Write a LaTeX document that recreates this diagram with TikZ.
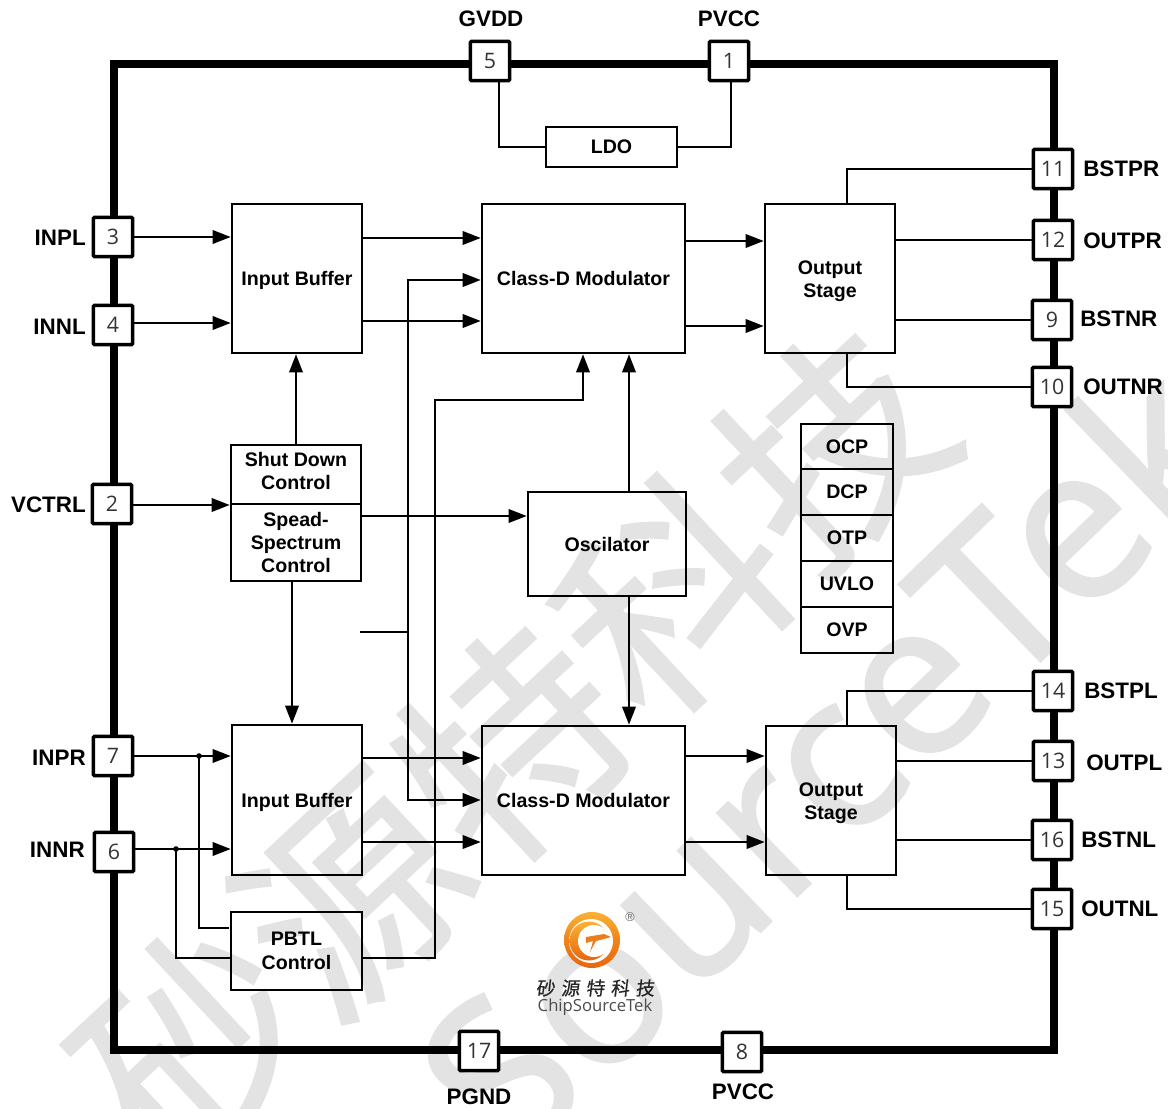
\documentclass[tikz,border=0pt]{standalone}
\usepackage{fontspec}
\setmainfont{Liberation Sans}
\newfontfamily\cjkfont{Noto Sans CJK SC}
\newfontfamily\cjklogo[FakeBold=0.6]{Noto Sans CJK SC}
\newfontfamily\cjkwm[FakeBold=0.9]{Noto Sans CJK SC}
\newfontfamily\numfont{Open Sans}
\newfontfamily\logofont{Open Sans}
\newfontfamily\wmfont[FakeBold=1.4]{Open Sans}
\usetikzlibrary{arrows.meta,calc}
\definecolor{wm}{HTML}{E3E3E3}
\definecolor{logoA}{HTML}{F9B233}
\definecolor{logoB}{HTML}{E8650F}
\tikzset{
  boxst/.style={draw=black,line width=1.9pt,fill=none,inner sep=0pt,align=center,font=\fontsize{14.7}{17.6}\selectfont\bfseries},
  pinst/.style={draw=black,line width=2.6pt,fill=white,rounded corners=0.8pt,minimum size=29.5pt,inner sep=0pt,font=\numfont\fontsize{16}{16}\selectfont,text=black!80},
  lblst/.style={inner sep=0pt,font=\fontsize{16.8}{19}\selectfont\bfseries},
  wire/.style={draw=black,line width=1.8pt},
  arr/.style={wire,-{Triangle[length=13.5pt,width=10pt]}},
  dotst/.style={circle,fill=black,inner sep=0pt,minimum size=4.2pt},
}
\newcommand{\bx}[6]{\node[boxst,minimum width=#4*0.75pt-#2*0.75pt,minimum height=#5*0.75pt-#3*0.75pt] (#1) at ({(#2+#4)/2},{(#3+#5)/2}) {#6};}
\newcommand{\dn}{\rule{0pt}{14pt}}
\newcommand{\up}{\rule[-5.5pt]{0pt}{5.5pt}}
\begin{document}
\begin{tikzpicture}[x=0.75pt,y=-0.75pt]
\useasboundingbox (0,0) rectangle (1168,1109);
\clip (0,0) rectangle (1168,1109);
\fill[white] (0,0) rectangle (1168,1109);
% watermark
\node[rotate=43,text=wm,inner sep=0pt,font=\cjkwm\fontsize{164}{166}\selectfont] (wm1) at (512,745) {砂源特科技};
\node[rotate=44,text=wm,inner sep=0pt,font=\wmfont\fontsize{161}{163}\selectfont] (wm2) at (823,759) {SourceTek};
% frame
\draw[line width=5.4pt,line join=miter] (114,64) rectangle (1054,1050);
% boxes
\bx{ldo}{546}{127}{677}{167}{LDO}
\bx{ib1}{232}{204}{362}{353}{\dn Input Buffer}
\bx{cd1}{482}{204}{685}{353}{Class-D Modulator}
\bx{os1}{765}{204}{895}{353}{\dn Output\\Stage}
\bx{sd}{231}{445}{361}{504}{Shut Down\\Control\up}
\bx{ss}{231}{504}{361}{581}{Spead-\\Spectrum\\Control}
\bx{osc}{528}{492}{686}{596}{Oscilator}
\bx{ocp}{801}{424}{893}{469}{OCP}
\bx{dcp}{801}{469}{893}{515}{DCP}
\bx{otp}{801}{515}{893}{561}{OTP}
\bx{uvlo}{801}{561}{893}{607}{UVLO}
\bx{ovp}{801}{607}{893}{653}{OVP}
\bx{ib2}{232}{725}{362}{875}{\dn Input Buffer}
\bx{cd2}{482}{726}{685}{875}{Class-D Modulator}
\bx{os2}{766}{726}{896}{875}{\dn Output\\Stage}
\bx{pbtl}{231}{912}{362}{990}{PBTL\\Control}
% pins
\node[pinst] (p5) at (490,61) {5};
\node[pinst] (p1) at (729,61) {1};
\node[pinst] (p3) at (113,237) {3};
\node[pinst] (p4) at (113,325) {4};
\node[pinst] (p2) at (112,504) {2};
\node[pinst] (p7) at (113,756) {7};
\node[pinst] (p6) at (114,852) {6};
\node[pinst] (p11) at (1053,169) {11};
\node[pinst] (p12) at (1053,240) {12};
\node[pinst] (p9) at (1052,320) {9};
\node[pinst] (p10) at (1052,387) {10};
\node[pinst] (p14) at (1053,691) {14};
\node[pinst] (p13) at (1053,761) {13};
\node[pinst] (p16) at (1052,840) {16};
\node[pinst] (p15) at (1052,909) {15};
\node[pinst] (p17) at (479,1051) {17};
\node[pinst] (p8) at (742,1052) {8};
% pin labels
\node[lblst] (l5) at (491,19) {GVDD};
\node[lblst] (l1) at (729,19) {PVCC};
\node[lblst,anchor=east] (l3) at (86,238) {INPL};
\node[lblst,anchor=east] (l4) at (86,327) {INNL};
\node[lblst,anchor=east] (l2) at (86,505) {VCTRL};
\node[lblst,anchor=east] (l7) at (86,758) {INPR};
\node[lblst,anchor=east] (l6) at (85,850) {INNR};
\node[lblst,anchor=west] (l11) at (1083,169) {BSTPR};
\node[lblst,anchor=west] (l12) at (1083,241) {OUTPR};
\node[lblst,anchor=west] (l9) at (1080,319) {BSTNR};
\node[lblst,anchor=west] (l10) at (1083,387) {OUTNR};
\node[lblst,anchor=west] (l14) at (1084,691) {BSTPL};
\node[lblst,anchor=west] (l13) at (1086,763) {OUTPL};
\node[lblst,anchor=west] (l16) at (1081,840) {BSTNL};
\node[lblst,anchor=west] (l15) at (1081,909) {OUTNL};
\node[lblst] (l17) at (479,1097) {PGND};
\node[lblst] (l8) at (743,1092) {PVCC};
% connection points
\coordinate (a1) at (499,81);
\coordinate (a2) at (731,81);
\coordinate (st) at (360,632);
\coordinate (j1) at (408,632);
\coordinate (j7) at (199,756);
\coordinate (j6) at (176,849);
% connectors
\draw[wire] (a1) |- (ldo.west);
\draw[wire] (a2) |- (ldo.east);
\draw[arr] (p3.east) -- (p3.east -| ib1.west);
\draw[arr] (p4.east |- 0,323) -- (ib1.west |- 0,323);
\draw[arr] (p2.east |- 0,505) -- (ss.west |- 0,505);
\draw[arr] (ib1.east |- 0,238) -- (cd1.west |- 0,238);
\draw[arr] (ib1.east |- 0,321) -- (cd1.west |- 0,321);
\draw[arr] (cd1.east |- 0,241) -- (os1.west |- 0,241);
\draw[arr] (cd1.east |- 0,326) -- (os1.west |- 0,326);
\draw[wire] (os1.north -| 847,0) |- (p11.west);
\draw[wire] (os1.east |- p12) -- (p12.west);
\draw[wire] (os1.east |- p9) -- (p9.west);
\draw[wire] (os1.south -| 847,0) |- (p10.west);
\draw[arr] (j1) -- (408,280) -- (cd1.west |- 0,280);
\draw[arr] (j1) -- (408,800) -- (cd2.west |- 0,800);
\draw[wire] (st) -- (j1);
\draw[arr] (pbtl.east |- 0,958) -- (435,958) -- (435,400) -- (583,400) -- (cd1.south -| 583,0);
\draw[arr] (osc.north -| 629,0) -- (cd1.south -| 629,0);
\draw[arr] (osc.south -| 629,0) -- (cd2.north -| 629,0);
\draw[arr] (sd.north -| 296,0) -- (ib1.south -| 296,0);
\draw[arr] (ss.south -| 292,0) -- (ib2.north -| 292,0);
\draw[arr] (ss.east |- 0,516) -- (osc.west |- 0,516);
\draw[arr] (p7.east) -- (ib2.west |- p7.east);
\draw[arr] (p6.east |- j6) -- (ib2.west |- j6);
\draw[wire] (j7) |- (229,928);
\draw[wire] (j6) |- (pbtl.west |- 0,958);
\node[dotst] (d7) at (j7) {};
\node[dotst] (d6) at (j6) {};
\draw[arr] (ib2.east |- 0,758) -- (cd2.west |- 0,758);
\draw[arr] (ib2.east |- 0,842) -- (cd2.west |- 0,842);
\draw[arr] (cd2.east |- 0,756) -- (os2.west |- 0,756);
\draw[arr] (cd2.east |- 0,842) -- (os2.west |- 0,842);
\draw[wire] (os2.north -| 847,0) |- (p14.west);
\draw[wire] (os2.east |- p13) -- (p13.west);
\draw[wire] (os2.east |- p16) -- (p16.west);
\draw[wire] (os2.south -| 847,0) |- (p15.west);
% logo
\shade[top color=logoA,bottom color=logoB,middle color=logoB!60!logoA] (592,940) circle[radius=28];
\fill[white] (591,941) circle[radius=22];
\shade[top color=logoA,bottom color=logoB] (589,941) circle[radius=19.5];
\fill[white] (594,941) circle[radius=16];
\fill[logoB!70!logoA] (586,937) -- (604,934) -- (611,937) -- (600,940) -- (596,941) -- (590,952) -- (593,941) -- (586,943) -- cycle;
\node[inner sep=0pt,text=black!60,font=\fontsize{9.5}{10}\selectfont] (reg) at (630,917) {®};
\node[inner sep=0pt,text=black!85,xslant=0.12,font=\cjklogo\fontsize{14}{15}\selectfont] (cn) at (596,988) {砂\,\,源\,\,特\,\,科\,\,技};
\node[inner sep=0pt,text=black!70,font=\logofont\fontsize{12.5}{14}\selectfont] (en) at (595,1007) {ChipSourceTek};
\end{tikzpicture}
\end{document}
